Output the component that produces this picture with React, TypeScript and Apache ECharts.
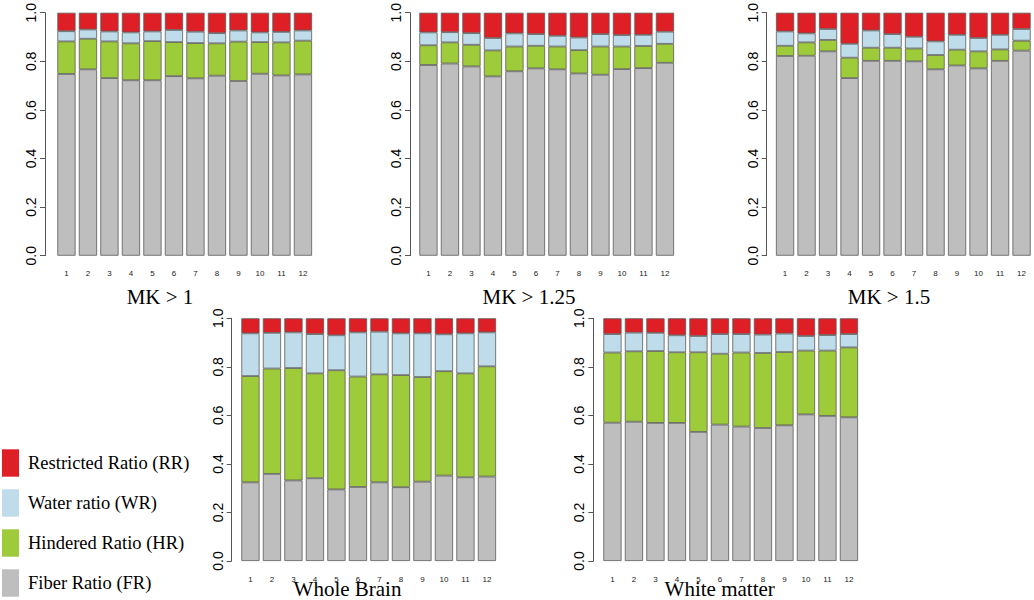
import React, { useEffect, useRef } from "react";
import * as echarts from "echarts";

const categories = ["1", "2", "3", "4", "5", "6", "7", "8", "9", "10", "11", "12"];
const seriesNames = ["Fiber Ratio (FR)", "Hindered Ratio (HR)", "Water ratio (WR)", "Restricted Ratio (RR)"];
const legendOrder = ["Restricted Ratio (RR)", "Water ratio (WR)", "Hindered Ratio (HR)", "Fiber Ratio (FR)"];
const panelTitles = ["MK > 1", "MK > 1.25", "MK > 1.5", "Whole Brain", "White matter"];

// MK > 1
const mk1FR = [0.748, 0.767, 0.731, 0.722, 0.722, 0.739, 0.730, 0.741, 0.719, 0.749, 0.742, 0.746];
const mk1HR = [0.134, 0.126, 0.151, 0.152, 0.161, 0.140, 0.145, 0.133, 0.162, 0.130, 0.136, 0.139];
const mk1WR = [0.042, 0.038, 0.041, 0.045, 0.040, 0.050, 0.047, 0.042, 0.046, 0.040, 0.043, 0.042];
const mk1RR = [0.076, 0.069, 0.077, 0.081, 0.077, 0.071, 0.078, 0.084, 0.073, 0.081, 0.079, 0.073];

// MK > 1.25
const mk125FR = [0.785, 0.791, 0.779, 0.738, 0.759, 0.771, 0.767, 0.750, 0.745, 0.768, 0.772, 0.794];
const mk125HR = [0.081, 0.087, 0.089, 0.107, 0.102, 0.093, 0.094, 0.096, 0.116, 0.093, 0.091, 0.078];
const mk125WR = [0.053, 0.042, 0.048, 0.051, 0.054, 0.048, 0.044, 0.052, 0.051, 0.047, 0.046, 0.050];
const mk125RR = [0.081, 0.080, 0.084, 0.104, 0.085, 0.088, 0.095, 0.102, 0.088, 0.092, 0.091, 0.078];

// MK > 1.5
const mk15FR = [0.822, 0.823, 0.841, 0.731, 0.802, 0.802, 0.800, 0.767, 0.783, 0.771, 0.802, 0.844];
const mk15HR = [0.042, 0.055, 0.047, 0.084, 0.054, 0.054, 0.053, 0.059, 0.065, 0.070, 0.047, 0.041];
const mk15WR = [0.059, 0.037, 0.045, 0.057, 0.071, 0.056, 0.048, 0.056, 0.061, 0.055, 0.060, 0.048];
const mk15RR = [0.077, 0.085, 0.067, 0.128, 0.073, 0.088, 0.099, 0.118, 0.091, 0.104, 0.091, 0.067];

// Whole Brain
const wbFR = [0.324, 0.359, 0.332, 0.341, 0.295, 0.305, 0.324, 0.304, 0.327, 0.352, 0.345, 0.348];
const wbHR = [0.438, 0.434, 0.463, 0.432, 0.491, 0.455, 0.445, 0.462, 0.431, 0.430, 0.428, 0.454];
const wbWR = [0.176, 0.147, 0.147, 0.162, 0.144, 0.182, 0.176, 0.172, 0.180, 0.152, 0.165, 0.140];
const wbRR = [0.062, 0.060, 0.058, 0.065, 0.070, 0.058, 0.055, 0.062, 0.062, 0.066, 0.062, 0.058];

// White matter
const wmFR = [0.570, 0.574, 0.569, 0.569, 0.532, 0.562, 0.554, 0.548, 0.559, 0.604, 0.598, 0.592];
const wmHR = [0.289, 0.290, 0.296, 0.291, 0.328, 0.292, 0.305, 0.309, 0.302, 0.263, 0.269, 0.288];
const wmWR = [0.076, 0.077, 0.075, 0.070, 0.067, 0.081, 0.076, 0.076, 0.076, 0.060, 0.064, 0.055];
const wmRR = [0.065, 0.059, 0.060, 0.070, 0.073, 0.065, 0.065, 0.067, 0.063, 0.073, 0.069, 0.065];

const panelData = [
  [mk1FR, mk1HR, mk1WR, mk1RR],
  [mk125FR, mk125HR, mk125WR, mk125RR],
  [mk15FR, mk15HR, mk15WR, mk15RR],
  [wbFR, wbHR, wbWR, wbRR],
  [wmFR, wmHR, wmWR, wmRR],
];

const colors = ["#bebebe", "#9ecb3a", "#bfdcea", "#de1f26"];

// layout
const grids = [
  { left: 55.7, top: 12.7, width: 258, height: 243, axisOffset: 10.7 },
  { left: 417.7, top: 12.7, width: 258, height: 243, axisOffset: 7.7 },
  { left: 774.3, top: 12.7, width: 258, height: 243, axisOffset: 7.6 },
  { left: 239.7, top: 318.3, width: 258, height: 242.7, axisOffset: 8 },
  { left: 601.7, top: 318.3, width: 258, height: 242.7, axisOffset: 8.4 },
];
const titlePos = [
  { x: 160, y: 297 },
  { x: 529, y: 297 },
  { x: 889, y: 297 },
  { x: 347.5, y: 589 },
  { x: 719.7, y: 589 },
];

export default function App() {
  const ref = useRef<HTMLDivElement>(null);
  useEffect(() => {
    if (!ref.current) return;
    const chart = echarts.init(ref.current, null, { renderer: "svg" });
    const series: any[] = [];
    panelData.forEach((arrs, pi) => {
      arrs.forEach((vals, si) => {
        series.push({
          type: "bar",
          name: seriesNames[si],
          xAxisIndex: pi,
          yAxisIndex: pi,
          stack: "p" + pi,
          data: vals,
          barCategoryGap: "15.3%",
          itemStyle: { color: colors[si], borderColor: "#5a5a5a", borderWidth: 0.8 },
          emphasis: { disabled: true },
        });
      });
    });
    chart.setOption({
      animation: false,
      legend: {
        orient: "vertical",
        left: 2,
        top: 449.3,
        height: 150,
        padding: 0,
        itemWidth: 17,
        itemHeight: 27.4,
        itemGap: 12.6,
        icon: "rect",
        data: legendOrder,
        selectedMode: false,
        itemStyle: { borderWidth: 0 },
        textStyle: {
          fontFamily: "Liberation Serif",
          fontSize: 18.5,
          color: "#000",
          padding: [3, 0, 0, 4],
        },
      },
      grid: grids.map((g) => ({ left: g.left, top: g.top, width: g.width, height: g.height })),
      xAxis: grids.map((_, i) => ({
        type: "category",
        gridIndex: i,
        data: categories,
        axisLine: { show: false },
        axisTick: { show: false },
        axisLabel: {
          interval: 0,
          fontSize: 8,
          color: "#222",
          fontFamily: "Liberation Sans",
          margin: 14,
        },
      })),
      yAxis: grids.map((g, i) => ({
        type: "value",
        gridIndex: i,
        min: 0,
        max: 1,
        interval: 0.2,
        offset: g.axisOffset,
        splitLine: { show: false },
        axisLine: { show: true, lineStyle: { color: "#555", width: 1 } },
        axisTick: { show: true, length: 5, lineStyle: { color: "#555" } },
        axisLabel: {
          rotate: 90,
          fontSize: 14,
          color: "#000",
          fontFamily: "Liberation Sans",
          margin: 7,
          formatter: (v: number) => v.toFixed(1),
        },
      })),
      graphic: panelTitles.map((t, i) => ({
        type: "text",
        x: titlePos[i].x,
        y: titlePos[i].y,
        style: {
          text: t,
          fontFamily: "Liberation Serif",
          fontSize: 21,
          fill: "#000",
          align: "center",
          verticalAlign: "middle",
        },
      })),
      series,
    });
    return () => chart.dispose();
  }, []);
  return (
    <div
      ref={ref}
      style={{ position: "absolute", left: 0, top: 0, width: 1034, height: 600, background: "#fff" }}
    />
  );
}
